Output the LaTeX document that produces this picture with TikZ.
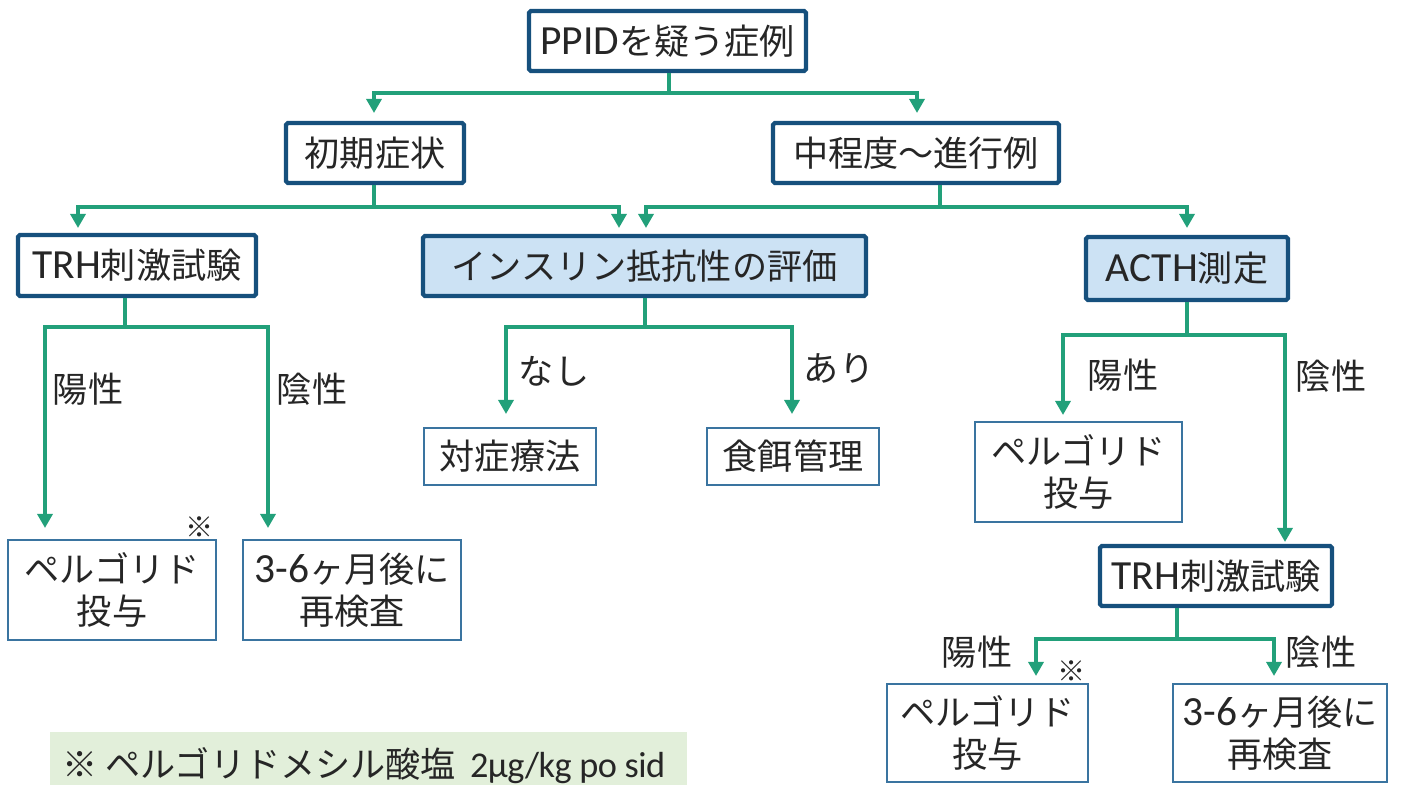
\documentclass[tikz,border=0pt]{standalone}
\usepackage{fontspec}
\setmainfont{Noto Sans CJK JP}
\newfontfamily\lat[Scale=1.18]{Carlito}
\usetikzlibrary{arrows.meta}
\definecolor{cgreen}{HTML}{22A07A}
\definecolor{cdark}{HTML}{16507D}
\definecolor{cthin}{HTML}{3A74A0}
\definecolor{cfill}{HTML}{CCE2F4}
\definecolor{cnote}{HTML}{E2EFDA}
\definecolor{ctext}{HTML}{262626}
\tikzset{
  every node/.style={font=\fontsize{20}{24}\selectfont, text=ctext},
  bigbox/.style={draw=cdark, line width=2.4pt, fill=white, rounded corners=1pt, inner sep=0pt},
  smallbox/.style={draw=cthin, line width=0.9pt, fill=white, inner sep=0pt, align=center},
  link/.style={draw=cgreen, line width=2.1pt},
  arr/.style={link, -{Triangle[length=8pt,width=8.5pt]}},
  lbl/.style={inner sep=0pt},
  notemark/.style={inner sep=0pt, font=\fontsize{16}{18}\selectfont},
}
\begin{document}
\begin{tikzpicture}[x=0.02cm, y=-0.02cm]
\useasboundingbox (0,0) rectangle (1407,785);

% boxes
\node[bigbox, minimum width=5.54cm, minimum height=1.2cm] (top) at (667.5,41) {{\lat PPID}を疑う症例};
\node[bigbox, minimum width=3.56cm, minimum height=1.2cm] (A) at (375,153) {初期症状};
\node[bigbox, minimum width=5.72cm, minimum height=1.2cm] (B) at (916,153) {中程度〜進行例};
\node[bigbox, minimum width=4.76cm, minimum height=1.22cm] (C) at (137,265.5) {{\lat TRH}刺激試験};
\node[bigbox, fill=cfill, minimum width=8.86cm, minimum height=1.2cm] (D) at (644.5,266) {インスリン抵抗性の評価};
\node[bigbox, fill=cfill, minimum width=4.04cm, minimum height=1.26cm] (E) at (1187,268.5) {{\lat ACTH}測定};
\node[smallbox, minimum width=3.44cm, minimum height=1.14cm] (F) at (510,456.5) {対症療法};
\node[smallbox, minimum width=3.44cm, minimum height=1.14cm] (G) at (793,456.5) {食餌管理};
\node[smallbox, minimum width=4.16cm, minimum height=2cm] (H) at (112,590) {ペルゴリド\\投与};
\node[smallbox, minimum width=4.36cm, minimum height=2cm] (I) at (352,590) {{\lat 3-6}ヶ月後に\\再検査};
\node[smallbox, minimum width=4.14cm, minimum height=2cm] (J) at (1078.5,472) {ペルゴリド\\投与};
\node[bigbox, minimum width=4.64cm, minimum height=1.2cm] (K) at (1216,576) {{\lat TRH}刺激試験};
\node[smallbox, minimum width=4.02cm, minimum height=1.96cm] (L) at (987.5,733) {ペルゴリド\\投与};
\node[smallbox, minimum width=4.28cm, minimum height=1.96cm] (M) at (1280,733) {{\lat 3-6}ヶ月後に\\再検査};

% connectors: top
\coordinate (j0) at (669,93);
\coordinate (tA) at (374,113);
\coordinate (tB) at (917,113);
\draw[link] (j0 |- top.south) -- (j0);
\draw[arr] (j0) -| (tA);
\draw[arr] (j0) -| (tB);

% from A
\coordinate (j1) at (374,207);
\coordinate (tC) at (78,228);
\coordinate (tD1) at (619,228);
\draw[link] (j1 |- A.south) -- (j1);
\draw[arr] (j1) -| (tC);
\draw[arr] (j1) -| (tD1);

% from B
\coordinate (j2) at (940,207);
\coordinate (tD2) at (646,228);
\coordinate (tE) at (1187,228);
\draw[link] (j2 |- B.south) -- (j2);
\draw[arr] (j2) -| (tD2);
\draw[arr] (j2) -| (tE);

% from C
\coordinate (j3) at (125,327);
\coordinate (tH) at (45,528);
\coordinate (tI) at (268,528);
\draw[link] (j3 |- C.south) -- (j3);
\draw[arr] (j3) -| (tH);
\draw[arr] (j3) -| (tI);

% from D
\coordinate (j4) at (645,327);
\coordinate (tF) at (506,414);
\coordinate (tG) at (792,414);
\draw[link] (j4 |- D.south) -- (j4);
\draw[arr] (j4) -| (tF);
\draw[arr] (j4) -| (tG);

% from E
\coordinate (j5) at (1187,335);
\coordinate (tJ) at (1063,415);
\coordinate (tK) at (1285,542);
\draw[link] (j5 |- E.south) -- (j5);
\draw[arr] (j5) -| (tJ);
\draw[arr] (j5) -| (tK);

% from K
\coordinate (j6) at (1177,639);
\coordinate (tL) at (1036,676);
\coordinate (tM) at (1274,676);
\draw[link] (j6 |- K.south) -- (j6);
\draw[arr] (j6) -| (tL);
\draw[arr] (j6) -| (tM);

% labels
\node[lbl] (l1) at (88,389) {陽性};
\node[lbl] (l2) at (312,389) {陰性};
\node[lbl] (l3) at (554,371) {なし};
\node[lbl] (l4) at (839,368) {あり};
\node[lbl] (l5) at (1123,375) {陽性};
\node[lbl] (l6) at (1331,376) {陰性};
\node[lbl] (l7) at (977,652) {陽性};
\node[lbl] (l8) at (1321,652) {陰性};
\node[notemark] (m1) at (200,527) {※};
\node[notemark] (m2) at (1072,671) {※};

% footnote
\fill[cnote] (50,732) rectangle (687,785);
\node[lbl, anchor=west] (note) at (62,766) {※ ペルゴリドメシル酸塩\hspace{0.4em}{\fontsize{17.5}{20}\selectfont\lat\addfontfeatures{LetterSpace=-1.5}2μg/kg po sid}};
\end{tikzpicture}
\end{document}
